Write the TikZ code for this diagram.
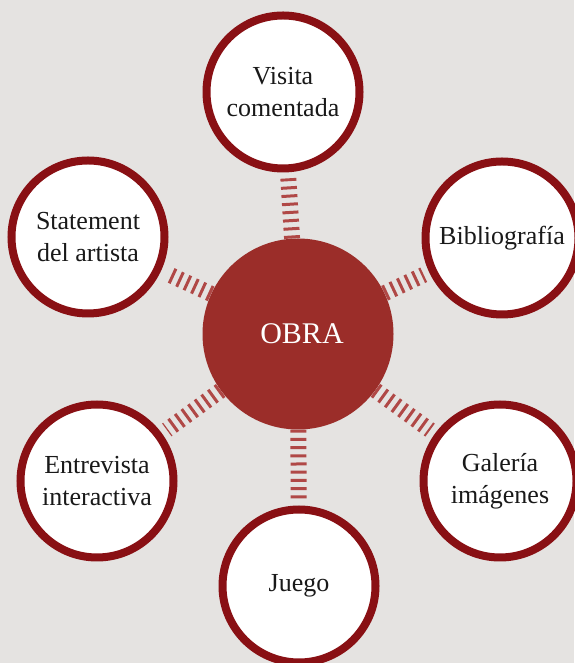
\documentclass[tikz,border=0pt]{standalone}
\usepackage{fontspec}
\setmainfont{Liberation Serif}
\usetikzlibrary{positioning}

\definecolor{fondo}{RGB}{229,227,225}
\definecolor{obrared}{RGB}{155,45,41}
\definecolor{borde}{RGB}{137,16,20}
\definecolor{enlace}{RGB}{176,72,70}

\tikzset{
  tema/.style={circle, draw=borde, line width=8pt, fill=white, minimum size=153pt,
    inner sep=0pt, align=center, text=black!90, font=\fontsize{26}{32}\selectfont},
  centro/.style={circle, fill=obrared, minimum size=191pt, inner sep=0pt,
    text=white, font=\fontsize{30}{36}\selectfont},
  enlace/.style={draw=enlace, line width=16pt, dash pattern=on 3pt off 5.2pt, shorten >=6pt}
}

\begin{document}
\begin{tikzpicture}[x=1pt, y=1pt]
  \useasboundingbox (0,0) rectangle (574,663);
	\fill[fondo] (0,0) rectangle (574,663);

	\node[centro] (obra) at (298,329) {\hspace*{8pt}OBRA};

	\node[tema] (visita) at (283,571) {Visita\\comentada};
	\node[tema] (biblio) at (502,425) {Bibliografía};
	\node[tema] (statement) at (88,426) {Statement\\del artista};
	\node[tema] (entrevista) at (97,182) {Entrevista\\interactiva};
	\node[tema] (galeria) at (500,182) {Galería\\imágenes};
	\node[tema] (juego) at (299,77) {Juego};

	% conectores
	\draw[enlace] (obra) -- (visita);
	\draw[enlace] (obra) -- (biblio);
	\draw[enlace] (obra) -- (statement);
	\draw[enlace] (obra) -- (entrevista);
	\draw[enlace] (obra) -- (galeria);
	\draw[enlace] (obra) -- (juego);
\end{tikzpicture}
\end{document}
